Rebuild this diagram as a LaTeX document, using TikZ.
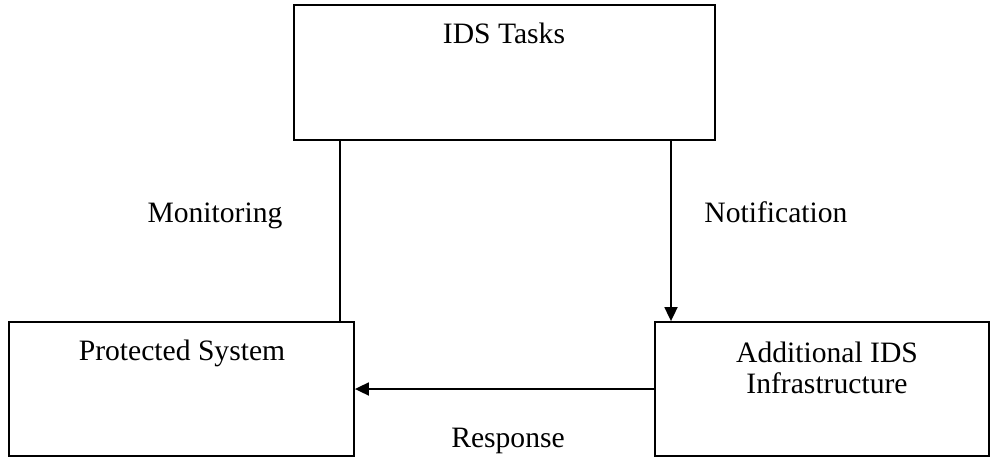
\documentclass[tikz,border=0pt]{standalone}
\usepackage{fontspec}
\setmainfont{Liberation Serif}
\usetikzlibrary{arrows.meta}

\tikzset{
  boxnode/.style={draw=black, line width=1.8pt, rectangle, inner sep=0pt, fill=white},
  label/.style={inner sep=0pt, anchor=base, font=\fontsize{29.6pt}{31pt}\selectfont},
  link/.style={draw=black, line width=1.8pt},
  arrowlink/.style={link, -{Triangle[length=14pt,width=13pt]}}
}

\begin{document}
\begin{tikzpicture}[x=1pt, y=-1pt]
  \useasboundingbox (0,0) rectangle (991,458);

  % boxes
  \node[boxnode, minimum width=421pt, minimum height=135pt] (ids)  at (504.5,72.5) {};
  \node[boxnode, minimum width=345pt, minimum height=134pt] (prot) at (181.5,389) {};
  \node[boxnode, minimum width=334pt, minimum height=134pt] (add)  at (822,389) {};

  % box titles (base anchor of a two-line node sits on its last line)
  \node[label] (idst)  at (504,43)  {IDS Tasks};
  \node[label] (prott) at (182,360) {Protected System};
  \node[label, align=center] (addt) at (827,393) {Additional IDS\\Infrastructure};

  % connector columns
  \coordinate (monx) at (340,0);
  \coordinate (notx) at (671,0);

  % connectors
  \draw[link] (ids.south -| monx) -- (prot.north -| monx);
  \draw[arrowlink] (ids.south -| notx) -- (add.north -| notx);
  \draw[arrowlink] (add.west) -- (prot.east);

  % connector labels
  \node[label] (lmon)  at (215,222) {Monitoring};
  \node[label] (lnot)  at (776,222) {Notification};
  \node[label] (lresp) at (508,447) {Response};
\end{tikzpicture}
\end{document}
